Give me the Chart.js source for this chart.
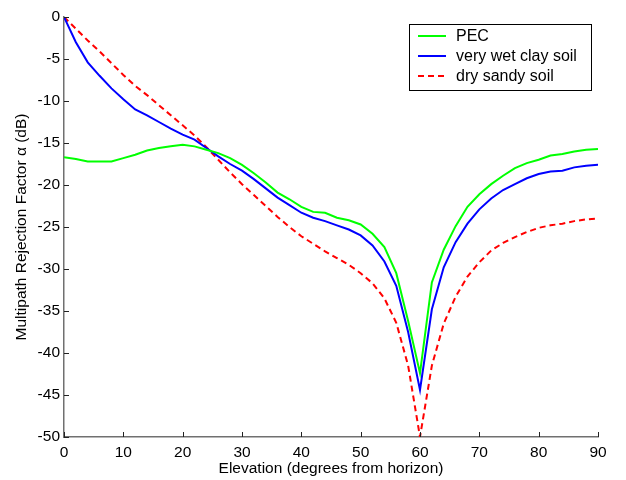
<!DOCTYPE html>
<html>
<head>
<meta charset="utf-8">
<script src="https://cdn.jsdelivr.net/npm/chart.js@4.4.0/dist/chart.umd.min.js"></script>
<style>
  html, body { margin: 0; padding: 0; background: #fff; overflow: hidden; }
  canvas { display: block; }
</style>
</head>
<body>
<canvas id="grafico" width="626" height="480" style="width:626px;height:480px"></canvas>
<script>
// elevação (graus) - passo de 2
const elevacao = [0, 2, 4, 6, 8, 10, 12, 14, 16, 18, 20, 22, 24, 26, 28, 30, 32, 34, 36, 38, 40, 42, 44,
    46, 48, 50, 52, 54, 56, 58, 60, 62, 64, 66, 68, 70, 72, 74, 76, 78, 80, 82, 84, 86, 88, 90];

const pec = [-16.7, -16.9, -17.2, -17.2, -17.2, -16.8, -16.4, -15.9, -15.6, -15.4, -15.2, -15.4, -15.8,
    -16.2, -16.8, -17.6, -18.6, -19.7, -20.9, -21.7, -22.6, -23.2, -23.3, -23.9, -24.2, -24.7, -25.8,
    -27.4, -30.5, -36.2, -42.4, -31.6, -27.7, -24.9, -22.6, -21.1, -19.9, -18.9, -18.0, -17.4, -17.0,
    -16.5, -16.3, -16.0, -15.8, -15.7];

const argilaUmida = [0, -3.0, -5.4, -7.0, -8.5, -9.8, -11.0, -11.7, -12.5, -13.3, -14.0, -14.6, -15.6,
    -16.6, -17.5, -18.3, -19.3, -20.4, -21.5, -22.4, -23.3, -23.9, -24.3, -24.8, -25.3, -26.0, -27.2,
    -29.1, -32.0, -37.5, -44.4, -34.8, -29.8, -26.8, -24.6, -22.9, -21.6, -20.6, -19.9, -19.2, -18.7,
    -18.4, -18.3, -17.9, -17.7, -17.6];

const areiaSeca = [0, -1.4, -2.8, -4.1, -5.5, -6.9, -8.2, -9.3, -10.5, -11.7, -12.9, -14.1, -15.5,
    -17.0, -18.5, -19.9, -21.2, -22.5, -23.8, -25.0, -26.1, -27.0, -27.9, -28.7, -29.5, -30.5, -31.7,
    -33.5, -36.4, -41.5, -50.0, -41.5, -36.5, -33.3, -30.9, -29.2, -27.8, -26.9, -26.2, -25.6, -25.1,
    -24.8, -24.6, -24.3, -24.1, -24.0];

const nomesSeries = ['PEC', 'very wet clay soil', 'dry sandy soil'];
const ticksX = [0, 10, 20, 30, 40, 50, 60, 70, 80, 90];
const ticksY = [0, -5, -10, -15, -20, -25, -30, -35, -40, -45, -50];

const fonte = "Arial, 'Liberation Sans', sans-serif";

const pontos = serie => elevacao.map((x, i) => ({ x: x, y: serie[i] }));

// marcas de escala para dentro (estilo matlab)
const ticksInternos = {
    id: 'ticksInternos',
    afterDatasetsDraw(chart) {
        const ctx = chart.ctx;
        const area = chart.chartArea;
        const sx = chart.scales.x, sy = chart.scales.y;
        ctx.save();
        ctx.strokeStyle = '#222';
        ctx.lineWidth = 1;
        ctx.beginPath();
        ticksX.forEach(v => {
            const px = Math.round(sx.getPixelForValue(v)) + 0.5;
            ctx.moveTo(px, area.bottom);
            ctx.lineTo(px, area.bottom - 5);
        });
        ticksY.forEach(v => {
            const py = Math.round(sy.getPixelForValue(v)) + 0.5;
            ctx.moveTo(area.left, py);
            ctx.lineTo(area.left + 5, py);
        });
        ctx.stroke();
        ctx.restore();
    }
};

// legenda com caixa
const legendaCaixa = {
    id: 'legendaCaixa',
    afterDraw(chart) {
        const ctx = chart.ctx;
        const x0 = 409, y0 = 24, w = 182, h = 66;
        ctx.save();
        ctx.fillStyle = '#fff';
        ctx.fillRect(x0, y0, w, h);
        ctx.strokeStyle = '#000';
        ctx.lineWidth = 1;
        ctx.strokeRect(x0 + 0.5, y0 + 0.5, w, h);
        ctx.font = '16px ' + fonte;
        ctx.textBaseline = 'middle';
        chart.data.datasets.forEach((ds, i) => {
            const yy = y0 + 12 + i * 20;
            ctx.strokeStyle = ds.borderColor;
            ctx.lineWidth = 2;
            ctx.setLineDash(ds.borderDash || []);
            ctx.beginPath();
            ctx.moveTo(x0 + 9, yy);
            ctx.lineTo(x0 + 37, yy);
            ctx.stroke();
            ctx.setLineDash([]);
            ctx.fillStyle = '#000';
            ctx.fillText(ds.label, x0 + 47, yy + 1);
        });
        ctx.restore();
    }
};

new Chart(document.getElementById('grafico').getContext('2d'), {
    type: 'line',
    data: {
        datasets: [
            { label: nomesSeries[0], data: pontos(pec), borderColor: '#00ff00', borderWidth: 2 },
            { label: nomesSeries[1], data: pontos(argilaUmida), borderColor: '#0000ff', borderWidth: 2 },
            { label: nomesSeries[2], data: pontos(areiaSeca), borderColor: '#ff0000', borderWidth: 2, borderDash: [6, 4] }
        ]
    },
    options: {
        responsive: false,
        animation: false,
        devicePixelRatio: 1,
        elements: { point: { radius: 0 }, line: { tension: 0 } },
        layout: { padding: { left: 0, right: 28, top: 17, bottom: 0 } },
        plugins: {
            legend: { display: false },
            tooltip: { enabled: false }
        },
        scales: {
            x: {
                type: 'linear',
                min: 0,
                max: 90,
                afterBuildTicks: s => { s.ticks = ticksX.map(v => ({ value: v })); },
                afterFit: s => { s.height = 43; },
                grid: { drawOnChartArea: false, drawTicks: false },
                border: { color: '#707070', width: 1.5 },
                ticks: { color: '#000', padding: 6, font: { family: fonte, size: 15.5 } },
                title: {
                    display: true,
                    text: 'Elevation (degrees from horizon)',
                    color: '#000',
                    font: { family: fonte, size: 15.5 },
                    padding: { top: 0, bottom: 2 }
                }
            },
            y: {
                type: 'linear',
                min: -50,
                max: 0,
                afterBuildTicks: s => { s.ticks = ticksY.map(v => ({ value: v })); },
                afterFit: s => { s.width = 64; },
                grid: { drawOnChartArea: false, drawTicks: false },
                border: { color: '#707070', width: 1.5 },
                ticks: { color: '#000', padding: 4, font: { family: fonte, size: 15.5 } },
                title: {
                    display: true,
                    text: 'Multipath Rejection Factor α (dB)',
                    color: '#000',
                    font: { family: fonte, size: 15.5 },
                    padding: { top: 12, bottom: 0 }
                }
            }
        }
    },
    plugins: [ticksInternos, legendaCaixa]
});
</script>
</body>
</html>
